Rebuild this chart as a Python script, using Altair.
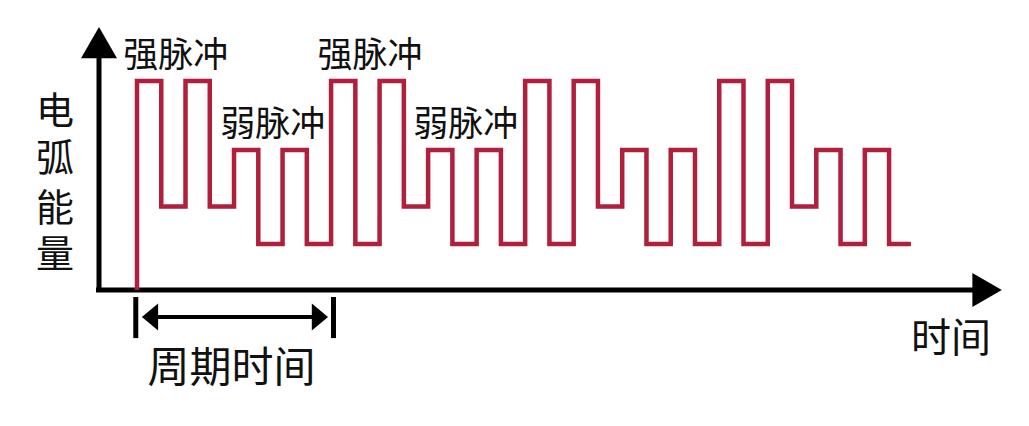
import altair as alt
import pandas as pd

# ---- data ----
# energy level of each half-pulse segment (time unit = half pulse)
levels = [10, 4.0, 10, 4.0, 6.7, 2.2, 6.7, 2.2,
          10, 2.2, 10, 4.0, 6.7, 2.2, 6.7, 2.2,
          10, 2.2, 10, 4.0, 6.7, 2.2, 6.7, 2.2,
          10, 2.2, 10, 4.0, 6.7, 2.2, 6.7, 2.2]
end_time = 31.9
start_level = 0

labels_text = ["强脉冲", "强脉冲", "弱脉冲", "弱脉冲"]
labels_t = [1.6, 9.6, 5.6, 13.55]
labels_e = [11.2, 11.2, 7.9, 7.9]

y_title_chars = ["电", "弧", "能", "量"]
y_title_e = [8.49, 6.20, 3.85, 1.65]
x_title = "时间"
period_title = "周期时间"
period_start, period_end = -0.05, 8.1

RED = "#B01F3C"
FONT = "Noto Sans CJK SC"

# ---- tables ----
t_vals = [0] + list(range(len(levels))) + [end_time]
e_vals = [start_level] + levels + [levels[-1]]
wave = pd.DataFrame({"t": t_vals, "e": e_vals, "o": list(range(len(t_vals)))})

xs = alt.Scale(domain=[-5.317, 36.438], nice=False, zero=False)
ys = alt.Scale(domain=[-6.124, 13.493], nice=False, zero=False)


def X(f):
    return alt.X(f, type="quantitative", scale=xs, axis=None)


def Y(f):
    return alt.Y(f, type="quantitative", scale=ys, axis=None)


line = alt.Chart(wave).mark_line(
    interpolate="step-after", color=RED, strokeWidth=4.5,
    strokeJoin="miter", strokeCap="butt"
).encode(x=X("t"), y=Y("e"), order=alt.Order("o", type="quantitative"))

# axes and period bracket ticks (segments)
seg_df = pd.DataFrame({
    "t1": [-1.566, -1.69, period_start, period_end],
    "t2": [-1.566, 34.6, period_start, period_end],
    "e1": [-0.1, 0.0, -0.335, -0.335],
    "e2": [11.2, 0.0, -2.3, -2.3]})
segs = alt.Chart(seg_df).mark_rule(color="black", strokeWidth=5).encode(
    x=X("t1"), x2="t2", y=Y("e1"), y2="e2")

up = alt.Chart(pd.DataFrame({"t": [-1.566], "e": [11.84]})).mark_point(
    shape="triangle-up", size=1296, filled=True, color="black", opacity=1
).encode(x=X("t"), y=Y("e"))
right = alt.Chart(pd.DataFrame({"t": [35.04], "e": [0.0]})).mark_point(
    shape="triangle-right", size=1156, filled=True, color="black", opacity=1
).encode(x=X("t"), y=Y("e"))

arrow_line = alt.Chart(pd.DataFrame({"t1": [0.35], "t2": [7.7], "e": [-1.29]})).mark_rule(
    color="black", strokeWidth=4
).encode(x=X("t1"), x2="t2", y=Y("e"))
head_l = alt.Chart(pd.DataFrame({"t": [0.536], "e": [-1.29]})).mark_point(
    shape="M-0.6,0L0.6,-1L0.6,1Z", size=729, filled=True, color="black", opacity=1
).encode(x=X("t"), y=Y("e"))
head_r = alt.Chart(pd.DataFrame({"t": [7.54], "e": [-1.29]})).mark_point(
    shape="M0.6,0L-0.6,-1L-0.6,1Z", size=729, filled=True, color="black", opacity=1
).encode(x=X("t"), y=Y("e"))

# texts
lab = alt.Chart(pd.DataFrame({"txt": labels_text, "t": labels_t, "e": labels_e})).mark_text(
    font=FONT, fontSize=35, color="#111111", baseline="middle", align="center"
).encode(x=X("t"), y=Y("e"), text="txt:N")

ytitle = alt.Chart(pd.DataFrame({"txt": y_title_chars, "t": [-3.38] * 4, "e": y_title_e})).mark_text(
    font=FONT, fontSize=38, color="#111111", baseline="middle", align="center"
).encode(x=X("t"), y=Y("e"), text="txt:N")

xtitle = alt.Chart(pd.DataFrame({"txt": [x_title], "t": [33.55], "e": [-2.39]})).mark_text(
    font=FONT, fontSize=40, color="#111111", baseline="middle", align="center"
).encode(x=X("t"), y=Y("e"), text="txt:N")

ptitle = alt.Chart(pd.DataFrame({"txt": [period_title], "t": [3.9], "e": [-3.76]})).mark_text(
    font=FONT, fontSize=42, color="#111111", baseline="middle", align="center"
).encode(x=X("t"), y=Y("e"), text="txt:N")

chart = alt.layer(segs, up, right, line, arrow_line, head_l, head_r,
                  lab, ytitle, xtitle, ptitle).properties(
    width=1013, height=410, padding=0, autosize=alt.AutoSizeParams(type="none"),
    background="white"
).configure_view(strokeWidth=0)

chart.save("out.html", embed_options={"renderer": "svg", "actions": False})
